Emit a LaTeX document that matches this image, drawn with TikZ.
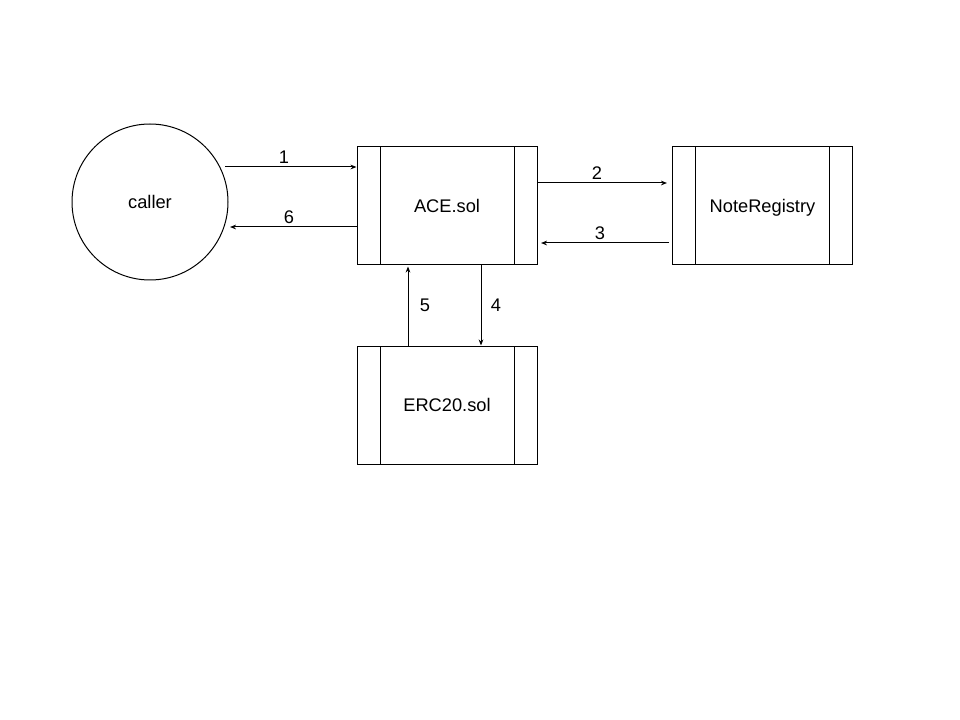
\documentclass[tikz,border=0pt]{standalone}
\usepackage{fontspec}
\setmainfont{Liberation Sans}
\usetikzlibrary{arrows.meta}
\tikzset{
    contract/.style={draw,line width=0.75pt,minimum width=135pt,minimum height=88.5pt,inner sep=0pt,
        text height=9.9pt,text depth=0pt,
        path picture={
            \draw[line width=0.75pt] ([xshift=17.25pt]path picture bounding box.north west) -- ([xshift=17.25pt]path picture bounding box.south west);
            \draw[line width=0.75pt] ([xshift=-17.25pt]path picture bounding box.north east) -- ([xshift=-17.25pt]path picture bounding box.south east);
        }},
    flow/.style={line width=0.75pt,-{Stealth[length=4.5pt,width=3.5pt]}},
    txt/.style={font=\fontsize{13.7}{16}\selectfont}
}

\begin{document}
\begin{tikzpicture}[x=0.75pt,y=-0.75pt]
\useasboundingbox (0,0) rectangle (960,720);
% caller and contracts
\node[draw,circle,line width=0.75pt,minimum size=117pt,inner sep=0pt,txt] (caller) at (150,202) {caller};
\node[contract,txt] (ace) at (447,206) {ACE.sol};
\node[contract,txt] (reg) at (762.5,206) {NoteRegistry};
\node[contract,txt] (erc) at (447,405) {ERC20.sol};
\coordinate (c1) at (225,167); \coordinate (c6) at (230,227);
\coordinate (c2) at (667,183); \coordinate (c3a) at (669,243); \coordinate (c3b) at (541,243);
\coordinate (c4) at (481,305); \coordinate (c5) at (408,305);
\draw[flow] (c1) -- (c1 -| ace.west);
\draw[flow] (c6 -| ace.west) -- (c6);
\draw[flow] (c2 -| ace.east) -- (c2);
\draw[flow] (c3a) -- (c3b);
\draw[flow] (ace.south -| c4) -- (erc.north -| c4);
\draw[flow] (erc.north -| c5) -- ([yshift=-0.75pt]ace.south -| c5);
\node[txt] (l1) at (284,157) {1};
\node[txt] (l6) at (289,217) {6};
\node[txt] (l2) at (597,173) {2};
\node[txt] (l3) at (600,233) {3};
\node[txt] (l5) at (425,305) {5};
\node[txt] (l4) at (496,305) {4};
\end{tikzpicture}
\end{document}
